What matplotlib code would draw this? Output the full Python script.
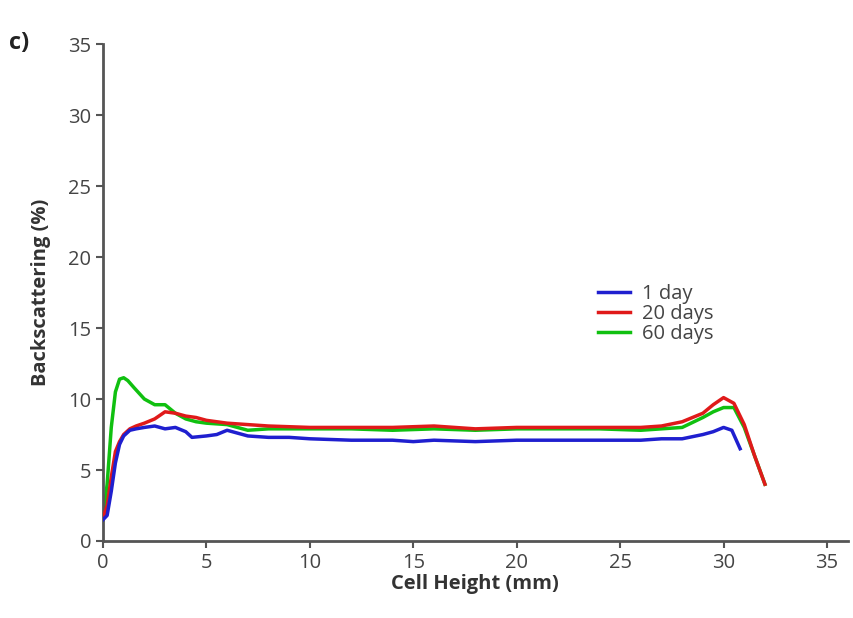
import numpy as np
import matplotlib.pyplot as plt

plt.rcParams['font.family'] = ['Open Sans', 'DejaVu Sans']

# cell height (mm) and backscattering (%)
x_1d = [0.0, 0.2, 0.4, 0.6, 0.8, 1.0, 1.3, 1.6, 2.0, 2.5, 3.0, 3.5, 4.0, 4.3, 5.0, 5.5, 6.0, 6.5,
        7.0, 8.0, 9.0, 10.0, 12.0, 14.0, 15.0, 16.0, 18.0, 20.0, 22.0, 24.0, 26.0, 27.0, 28.0,
        29.0, 29.5, 30.0, 30.4, 30.8]
y_1d = [1.5, 1.8, 3.5, 5.5, 6.8, 7.4, 7.8, 7.9, 8.0, 8.1, 7.9, 8.0, 7.7, 7.3, 7.4, 7.5, 7.8, 7.6,
        7.4, 7.3, 7.3, 7.2, 7.1, 7.1, 7.0, 7.1, 7.0, 7.1, 7.1, 7.1, 7.1, 7.2, 7.2,
        7.5, 7.7, 8.0, 7.8, 6.5]

x_20d = [0.0, 0.2, 0.4, 0.6, 0.8, 1.0, 1.3, 1.6, 2.0, 2.5, 3.0, 3.5, 4.0, 4.5, 5.0, 6.0,
         7.0, 8.0, 10.0, 12.0, 14.0, 16.0, 18.0, 20.0, 22.0, 24.0, 26.0, 27.0, 28.0,
         29.0, 29.5, 30.0, 30.5, 31.0, 31.5, 32.0]
y_20d = [1.6, 2.5, 4.5, 6.3, 7.0, 7.5, 7.9, 8.1, 8.3, 8.6, 9.1, 9.0, 8.8, 8.7, 8.5, 8.3,
         8.2, 8.1, 8.0, 8.0, 8.0, 8.1, 7.9, 8.0, 8.0, 8.0, 8.0, 8.1, 8.4,
         9.0, 9.6, 10.1, 9.7, 8.2, 6.0, 4.0]

x_60d = [0.0, 0.2, 0.4, 0.6, 0.8, 1.0, 1.2, 1.5, 2.0, 2.5, 3.0, 3.5, 4.0, 4.5, 5.0, 6.0,
         7.0, 8.0, 10.0, 12.0, 14.0, 16.0, 18.0, 20.0, 22.0, 24.0, 26.0, 27.0, 28.0,
         29.0, 29.5, 30.0, 30.5, 31.0, 31.5, 32.0]
y_60d = [1.5, 4.0, 8.0, 10.5, 11.4, 11.5, 11.3, 10.8, 10.0, 9.6, 9.6, 9.0, 8.6, 8.4, 8.3, 8.2,
         7.8, 7.9, 7.9, 7.9, 7.8, 7.9, 7.8, 7.9, 7.9, 7.9, 7.8, 7.9, 8.0,
         8.7, 9.1, 9.4, 9.4, 8.0, 6.0, 4.0]

labels = ['1 day', '20 days', '60 days']
colors = ['#1f1fcf', '#e01a1a', '#10c010']

fig = plt.figure(figsize=(8.54, 6.18), dpi=100)
ax = fig.add_axes([0.1206, 0.1246, 0.872, 0.804])

ax.plot(x_1d, y_1d, color=colors[0], lw=2.5, label=labels[0], zorder=4)
ax.plot(x_20d, y_20d, color=colors[1], lw=2.5, label=labels[1], zorder=3)
ax.plot(x_60d, y_60d, color=colors[2], lw=2.5, label=labels[2], zorder=2)

ax.set_xlim(0, 36)
ax.set_ylim(0, 35)
ax.set_xticks(range(0, 36, 5))
ax.set_yticks(range(0, 36, 5))
for s in ['top', 'right']:
    ax.spines[s].set_visible(False)
for s in ['left', 'bottom']:
    ax.spines[s].set_color('#555555')
    ax.spines[s].set_linewidth(2)
ax.spines['left'].set_bounds(0, 35)
ax.tick_params(colors='#555555', width=1.5, length=5, labelsize=14.5, labelcolor='#444444')

ax.set_xlabel('Cell Height (mm)', fontsize=14.5, fontweight='bold', color='#333333', labelpad=1)
ax.set_ylabel('Backscattering (%)', fontsize=14.5, fontweight='bold', color='#333333', labelpad=12)
fig.text(0.01, 0.92, 'c)', fontsize=17, fontweight='bold', color='#222222')

ax.legend(loc='upper left', bbox_to_anchor=(0.64, 0.553), frameon=False, fontsize=14.5,
          handlelength=1.6, labelspacing=0.0, handletextpad=0.6,
          labelcolor='#444444')

fig.savefig('out.png', dpi=100)
